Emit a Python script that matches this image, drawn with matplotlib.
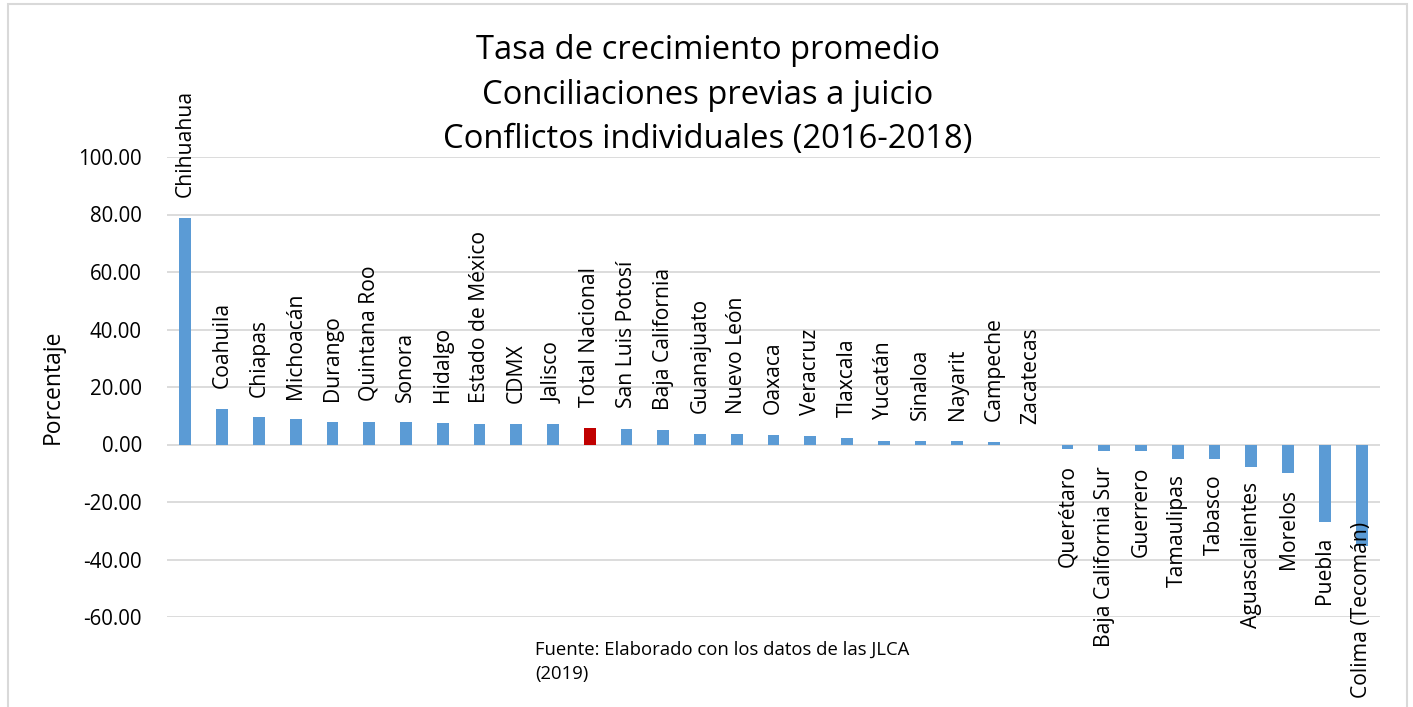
import matplotlib
matplotlib.use("Agg")
import matplotlib.pyplot as plt
from matplotlib.patches import Rectangle

categories = ["Chihuahua", "Coahuila", "Chiapas", "Michoacán", "Durango", "Quintana Roo",
              "Sonora", "Hidalgo", "Estado de México", "CDMX", "Jalisco", "Total Nacional",
              "San Luis Potosí", "Baja California", "Guanajuato", "Nuevo León", "Oaxaca",
              "Veracruz", "Tlaxcala", "Yucatán", "Sinaloa", "Nayarit", "Campeche", "Zacatecas",
              "Querétaro", "Baja California Sur", "Guerrero", "Tamaulipas", "Tabasco",
              "Aguascalientes", "Morelos", "Puebla", "Colima (Tecomán)"]
values = [78.8, 12.4, 9.4, 8.7, 8.0, 7.9, 7.7, 7.6, 7.3, 7.3, 7.1, 5.9,
          5.5, 4.9, 3.7, 3.5, 3.4, 3.0, 2.4, 1.3, 1.2, 1.2, 0.9, 0.0,
          -1.7, -2.4, -2.4, -4.9, -5.1, -7.7, -10.0, -26.8, -35.2]
highlight = "Total Nacional"
yticks = [-60, -40, -20, 0, 20, 40, 60, 80, 100]

plt.rcParams['font.family'] = ['Open Sans', 'DejaVu Sans']

W, H = 1413, 707
fig = plt.figure(figsize=(W / 100, H / 100), dpi=100)
fig.patches.append(Rectangle((8 / W, -0.01), (1407 - 8) / W, 1 - 4 / H + 0.01,
                             transform=fig.transFigure, fill=False,
                             edgecolor="#d9d9d9", linewidth=1.5))

ax = fig.add_axes([167 / W, (H - 617) / H, (1380 - 167) / W, (617 - 157) / H])
x = list(range(len(categories)))
colors = ["#C00000" if c == highlight else "#5B9BD5" for c in categories]
ax.bar(x, values, width=0.32, color=colors, zorder=3)

ax.set_xlim(-0.5, len(categories) - 0.5)
ax.set_ylim(-60, 100)
ax.set_yticks(yticks)
ax.set_yticklabels([f"{v:.2f}" for v in yticks], fontsize=14.8)
ax.tick_params(axis="y", length=0, pad=18)
ax.set_xticks([])
ax.grid(axis="y", color="#d9d9d9", linewidth=1.3, zorder=0)
for s in ax.spines.values():
    s.set_visible(False)
ax.set_ylabel("Porcentaje", fontsize=16.5, labelpad=10)

lab_fs = 15.2
for i, (c, v) in enumerate(zip(categories, values)):
    if c == categories[-1]:
        fig.text(ax.transData.transform((i, 0))[0] / W, 9 / H, c,
                 rotation=90, ha="center", va="bottom", fontsize=lab_fs)
    elif v >= 0:
        ax.annotate(c, (i, v), xytext=(0, 15), textcoords="offset points",
                    rotation=90, ha="center", va="bottom", fontsize=lab_fs)
    else:
        ax.annotate(c, (i, v), xytext=(0, -11), textcoords="offset points",
                    rotation=90, ha="center", va="top", fontsize=lab_fs)

fig.text(708 / W, 1 - 95 / H,
         "Tasa de crecimiento promedio\nConciliaciones previas a juicio\nConflictos individuales (2016-2018)",
         ha="center", va="center", fontsize=23.6, linespacing=1.45)
fig.text(535 / W, 1 - 662 / H, "Fuente: Elaborado con los datos de las JLCA\n(2019)",
         ha="left", va="center", fontsize=13.3, linespacing=1.45)

fig.savefig("out.png", dpi=100)
